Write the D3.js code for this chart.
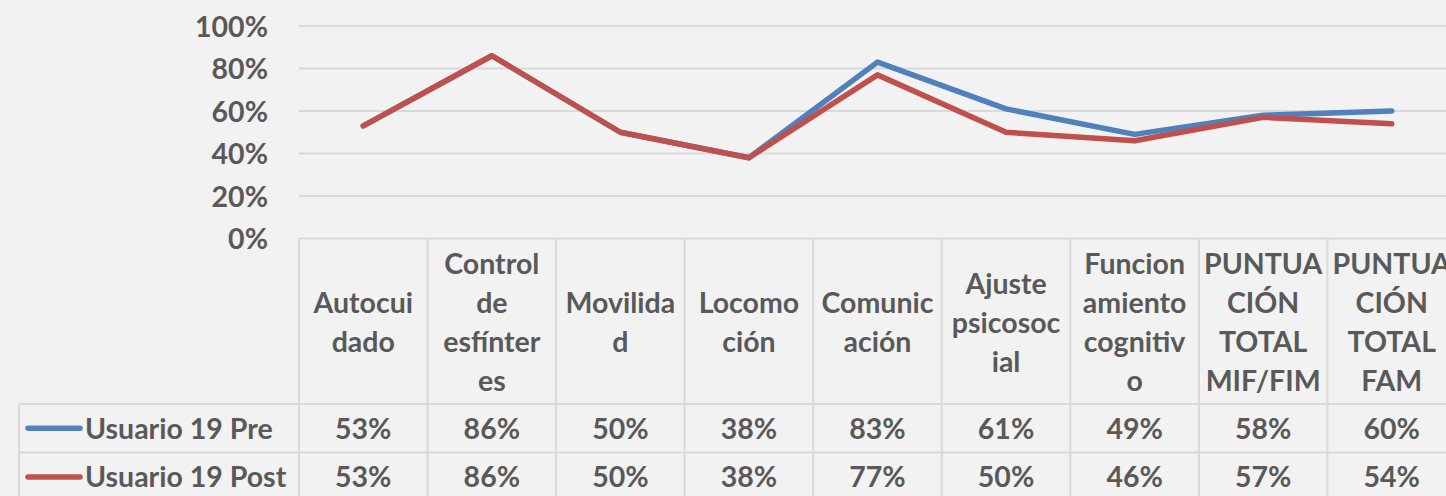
<!DOCTYPE html>
<html>
<head>
<meta charset="utf-8">
<script src="https://cdn.jsdelivr.net/npm/d3@7/dist/d3.min.js"></script>
<style>
  html, body { margin: 0; padding: 0; background: #f2f2f2; overflow: hidden; }
  svg { display: block; }
  text { font-family: Lato, "Open Sans", sans-serif; font-weight: 700; fill: #595959; }
</style>
</head>
<body>
<svg id="chart" width="1446" height="496"></svg>
<script>
// Categories (full names) and the wrapped lines shown in the table header
const categories = [
  "Autocuidado", "Control de esfínteres", "Movilidad", "Locomoción", "Comunicación",
  "Ajuste psicosocial", "Funcionamiento cognitivo", "PUNTUACIÓN TOTAL MIF/FIM", "PUNTUACIÓN TOTAL FAM"
];
const headerLines = [
  ["Autocui", "dado"],
  ["Control", "de", "esfínter", "es"],
  ["Movilida", "d"],
  ["Locomo", "ción"],
  ["Comunic", "ación"],
  ["Ajuste", "psicosoc", "ial"],
  ["Funcion", "amiento", "cognitiv", "o"],
  ["PUNTUA", "CIÓN", "TOTAL", "MIF/FIM"],
  ["PUNTUA", "CIÓN", "TOTAL", "FAM"]
];
const seriesNames = ["Usuario 19 Pre", "Usuario 19 Post"];
const preValues  = [0.53, 0.86, 0.50, 0.38, 0.83, 0.61, 0.49, 0.58, 0.60];
const postValues = [0.53, 0.86, 0.50, 0.38, 0.77, 0.50, 0.46, 0.57, 0.54];
const yTicks = [0, 0.2, 0.4, 0.6, 0.8, 1.0];
const seriesColors = ["#4f81bd", "#c0504d"];

const svg = d3.select("#chart");
const fontSize = 28.5;

const plotLeft = 299, plotRight = 1456;
const y0 = 238.5, y100 = 26;
const tableTop = y0, headerBottom = 404, rowH = 48.6;
const tableLeft = 19;

const x = d3.scaleBand().domain(categories).range([plotLeft, plotRight]).padding(0);
const y = d3.scaleLinear().domain([0, 1]).range([y0, y100]);
const pct = d3.format(".0%");

// Horizontal gridlines
svg.append("g")
  .selectAll("line")
  .data(yTicks.filter(d => d > 0))
  .join("line")
  .attr("x1", plotLeft).attr("x2", plotRight)
  .attr("y1", d => y(d)).attr("y2", d => y(d))
  .attr("stroke", "#d9d9d9").attr("stroke-width", 2);

// Y axis labels
const yAxis = d3.axisLeft(y).tickValues(yTicks).tickFormat(pct).tickSize(0).tickPadding(0);
const yg = svg.append("g").attr("transform", `translate(${plotLeft - 31},0)`).call(yAxis);
yg.select(".domain").remove();
yg.selectAll("text")
  .attr("font-size", fontSize)
  .attr("font-family", null)
  .attr("fill", "#595959")
  .attr("dy", "0.36em");

// Data table grid
const grid = svg.append("g").attr("stroke", "#d9d9d9").attr("stroke-width", 2);
const bounds = categories.map(c => x(c)).concat([x(categories[categories.length - 1]) + x.bandwidth()]);
grid.selectAll("line.v")
  .data(bounds)
  .join("line")
  .attr("x1", d => d).attr("x2", d => d)
  .attr("y1", tableTop).attr("y2", 500);
grid.append("line").attr("x1", tableLeft).attr("x2", tableLeft).attr("y1", headerBottom).attr("y2", 500);
grid.append("line").attr("x1", plotLeft).attr("x2", plotRight).attr("y1", tableTop).attr("y2", tableTop);
[headerBottom, headerBottom + rowH, headerBottom + 2 * rowH].forEach(yy => {
  grid.append("line").attr("x1", tableLeft).attr("x2", plotRight).attr("y1", yy).attr("y2", yy);
});

// Header labels
const lineH = 39;
const headerMid = (tableTop + headerBottom) / 2 + 1;
const hdr = svg.append("g").attr("font-size", fontSize).attr("text-anchor", "middle");
categories.forEach((c, i) => {
  const lines = headerLines[i];
  const cx = x(c) + x.bandwidth() / 2;
  const start = headerMid - (lines.length - 1) * lineH / 2;
  lines.forEach((ln, j) => {
    hdr.append("text")
      .attr("x", cx).attr("y", start + j * lineH)
      .attr("dy", "0.36em")
      .text(ln);
  });
});

// Series lines and table rows
const series = [preValues, postValues];
const line = d3.line()
  .x((d, i) => x(categories[i]) + x.bandwidth() / 2)
  .y(d => y(d));

// Post drawn last so it sits on top
series.forEach((vals, s) => {
  svg.append("path")
    .datum(vals)
    .attr("d", line)
    .attr("fill", "none")
    .attr("stroke", seriesColors[s])
    .attr("stroke-width", 5.5)
    .attr("stroke-linejoin", "round")
    .attr("stroke-linecap", "round");
});

series.forEach((vals, s) => {
  const rowMid = headerBottom + rowH * s + rowH / 2;
  // Legend key
  svg.append("line")
    .attr("x1", 28).attr("x2", 80)
    .attr("y1", rowMid).attr("y2", rowMid)
    .attr("stroke", seriesColors[s]).attr("stroke-width", 5.5)
    .attr("stroke-linecap", "round");
  svg.append("text")
    .attr("x", 85).attr("y", rowMid)
    .attr("dy", "0.36em")
    .attr("font-size", fontSize)
    .text(seriesNames[s]);
  svg.append("g").attr("font-size", fontSize).attr("text-anchor", "middle")
    .selectAll("text")
    .data(vals)
    .join("text")
    .attr("x", (d, i) => x(categories[i]) + x.bandwidth() / 2)
    .attr("y", rowMid)
    .attr("dy", "0.36em")
    .text(d => pct(d));
});
</script>
</body>
</html>
